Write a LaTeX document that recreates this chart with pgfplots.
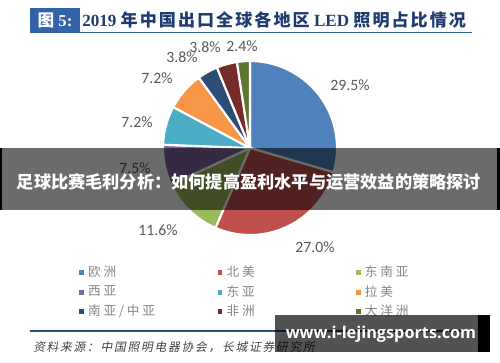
\documentclass[border=0pt]{standalone}
\usepackage{pgfplots}
\pgfplotsset{compat=1.18}
\usepackage{pgfplotstable}
\usepackage{fontspec}
\setmainfont{Liberation Serif}
\newfontfamily\cjk{Noto Sans CJK SC}
\newfontfamily\cjkls[LetterSpace=22]{Noto Sans CJK SC}
\newfontfamily\cjktitle[LetterSpace=12]{Noto Sans CJK SC}
\newfontfamily\cjkit[FakeSlant=0.2,LetterSpace=15]{Noto Sans CJK SC}
\newfontfamily\lab{Carlito}
\newfontfamily\wm{Open Sans}
\definecolor{c1}{HTML}{4F81BD}
\definecolor{c2}{HTML}{C0504D}
\definecolor{c3}{HTML}{9BBB59}
\definecolor{c4}{HTML}{8064A2}
\definecolor{c5}{HTML}{4BACC6}
\definecolor{c6}{HTML}{F79646}
\definecolor{c7}{HTML}{2C4D75}
\definecolor{c8}{HTML}{772C2A}
\definecolor{c9}{HTML}{5F7530}
\definecolor{titleblue}{HTML}{1F3B70}
\definecolor{boxblue}{HTML}{3462A8}
\definecolor{labgray}{HTML}{595959}
\definecolor{leggray}{HTML}{858585}

% pie slices: centre position and value (%)
\pgfplotstableread{
x y val
250 148 29.5
250 148 27.0
250 148 11.6
250 148 7.5
250 148 7.2
250 148 7.2
250 148 3.8
250 148 3.8
250 148 2.4
}\pietable

% data labels (pixel positions)
\pgfplotstableread{
x y lab
350 85 29.5
315 247 27.0
158 230 11.6
135 168 7.5
137 122 7.2
157 78 7.2
182 57 3.8
205 47 3.8
242 46 2.4
}\labtable

\newcount\piecount
\gdef\pietot{0}

\begin{document}
\begin{tikzpicture}
\begin{axis}[
  scale only axis, width=375pt, height=271.5pt,
  xmin=0, xmax=500, ymin=0, ymax=362, y dir=reverse,
  hide axis, clip=false,
  legend columns=3,
  legend image code/.code={\fill[#1] (0pt,-1.4pt) rectangle (2.8pt,1.4pt);},
  legend style={at={(axis cs:79,263)}, anchor=north west, draw=none, fill=none,
    font=\cjkls\fontsize{9.5}{11}\selectfont, text=leggray,
    row sep=1.2pt, inner sep=0pt,
    /tikz/column 2/.style={column sep=45pt},
    /tikz/column 4/.style={column sep=74pt},
    /tikz/every odd column/.append style={column sep=1.5pt}},
  legend cell align=left,
]
\addplot[forget plot, scatter, only marks, mark=*, mark size=0pt,
  point meta=explicit symbolic,
  scatter/@pre marker code/.code={%
    \begingroup
    \pgfkeys{/pgf/fpu=false}%
    \global\advance\piecount by 1
    \pgfmathsetmacro\aone{90-3.6*\pietot}%
    \pgfmathsetmacro\atwo{90-3.6*(\pietot+\pgfplotspointmeta)}%
    \pgfmathsetmacro\newtot{\pietot+\pgfplotspointmeta}%
    \global\let\pietot\newtot
    \filldraw[fill=c\the\piecount, draw=white, line width=1.6pt, line join=round]
      (0pt,0pt) -- (\aone:65.25pt) arc[start angle=\aone, end angle=\atwo, radius=65.25pt] -- cycle;
    \endgroup
    \scope},
  scatter/@post marker code/.code={\endscope}
] table[x=x, y=y, meta=val] {\pietable};

\addplot[forget plot, draw=none, mark=none,
  point meta=explicit symbolic,
  nodes near coords={\pgfplotspointmeta\%},
  nodes near coords align={center},
  every node near coord/.style={font=\lab\fontsize{11.8}{13}\selectfont, text=labgray, anchor=center, inner sep=0pt}
] table[x=x, y=y, meta=lab] {\labtable};

\addlegendimage{color=c1}\addlegendentry{欧洲}
\addlegendimage{color=c2}\addlegendentry{北美}
\addlegendimage{color=c3}\addlegendentry{东南亚}
\addlegendimage{color=c4}\addlegendentry{西亚}
\addlegendimage{color=c5}\addlegendentry{东亚}
\addlegendimage{color=c6}\addlegendentry{拉美}
\addlegendimage{color=c7}\addlegendentry{南亚/中亚}
\addlegendimage{color=c8}\addlegendentry{非洲}
\addlegendimage{color=c9}\addlegendentry{大洋洲}
\end{axis}
\begin{scope}[shift={(current axis.north west)}, x=0.75pt, y=-0.75pt]
  % title
  \fill[boxblue] (30,8) rectangle (80,32);
  \node[anchor=center, text=white, font=\bfseries\fontsize{12.5}{14}\selectfont] at (55,20) {{\cjk 图} 5:};
  \node[anchor=west, text=titleblue, font=\bfseries\fontsize{12.8}{14}\selectfont, inner sep=0pt] at (82,20)
    {2019 {\cjktitle 年中国出口全球各地区} LED {\cjktitle 照明占比情况}};
  \draw[boxblue, line width=1.1pt] (30,32.5) -- (472,32.5);
  % bottom rule and source
  \draw[boxblue!80!black, line width=1pt] (30,331) -- (472,331);
  \node[anchor=west, text=black!75, font=\cjkit\fontsize{8.8}{10}\selectfont, inner sep=0pt] at (33,347)
    {资料来源：中国照明电器协会，长城证券研究所};
  % overlay band
  \fill[black, opacity=0.58] (0,148) rectangle (500,210);
  \fill[black] (0,148) rectangle (2,210);
  \fill[black] (497,148) rectangle (500,210);
  \node[text=white, font=\cjk\bfseries\fontsize{12.9}{14}\selectfont, inner sep=0pt] at (249,182)
    {足球比赛毛利分析：如何提高盈利水平与运营效益的策略探讨};
  % watermark
  \fill[black, opacity=0.68] (275,315) rectangle (478,352);
  \fill[black] (478,315) rectangle (490,352);
  \node[text=white, font=\wm\bfseries\fontsize{12.2}{14}\selectfont, inner sep=0pt] at (381,334)
    {www.i-lejingsports.com};
\end{scope}
\pgfresetboundingbox
\path[use as bounding box] (current axis.south west) rectangle (current axis.north east);
\end{tikzpicture}
\end{document}
